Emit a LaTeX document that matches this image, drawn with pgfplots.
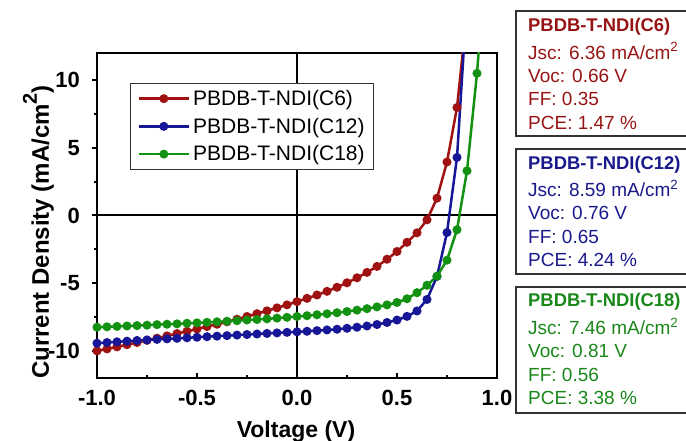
\documentclass[border=0pt]{standalone}
\usepackage{pgfplots}
\pgfplotsset{compat=1.18}
\usepackage{fontspec}
\setmainfont{Liberation Sans}
\definecolor{cred}{RGB}{160,18,18}
\definecolor{cblue}{RGB}{22,22,150}
\definecolor{cgreen}{RGB}{18,145,18}
\definecolor{tred}{RGB}{150,20,20}
\definecolor{tblue}{RGB}{25,25,140}
\definecolor{tgreen}{RGB}{25,135,25}
\begin{document}
\begin{tikzpicture}
\begin{axis}[
  scale only axis, width=400bp, height=325bp,
  xmin=-1, xmax=1, ymin=-12, ymax=12,
  axis line style={line width=2.4bp},
  xtick={-1,-0.5,0,0.5,1}, ytick={-10,-5,0,5,10},
  minor xtick={-0.75,-0.25,0.25,0.75}, minor ytick={-7.5,-2.5,2.5,7.5},
  xtick pos=bottom, ytick pos=left,
  tick align=inside,
  major tick length=5bp, minor tick length=3bp,
  every tick/.style={black, line width=2bp},
  every major y tick/.append style={xshift=-5bp},
  every minor y tick/.append style={xshift=-3bp},
  /pgf/number format/assume math mode=true,
  xticklabel style={/pgf/number format/fixed, /pgf/number format/fixed zerofill, /pgf/number format/precision=1,
    anchor=base, inner sep=0pt, yshift=-27bp},
  yticklabel style={anchor=east, inner sep=0pt, xshift=-17bp},
  ticklabel style={font=\fontsize{22bp}{26bp}\selectfont\bfseries},
  legend style={at={(0.0825,0.9086)}, anchor=north west, draw=black!80, line width=1.2bp,
    font=\fontsize{21bp}{25bp}\selectfont, inner xsep=7bp, inner ysep=5bp, row sep=7bp, column sep=1bp,
    nodes={inner sep=2bp}},
  legend cell align=left,
  legend image code/.code={\draw[mark repeat=2,mark phase=2] plot coordinates {(0bp,0bp) (25bp,0bp) (50bp,0bp)};},
  every axis plot/.append style={line width=2.5bp, mark=*, mark size=3.2bp},
]
\draw[line width=2bp, black] (axis cs:-1,0) -- (axis cs:1,0);
\draw[line width=2bp, black] (axis cs:0,-12) -- (axis cs:0,12);
\addplot[cred, mark options={fill=cred}] table {
-1.00 -10.00
-0.95 -9.85
-0.90 -9.70
-0.85 -9.54
-0.80 -9.38
-0.75 -9.22
-0.70 -9.06
-0.65 -8.89
-0.60 -8.72
-0.55 -8.55
-0.50 -8.38
-0.45 -8.20
-0.40 -8.03
-0.35 -7.85
-0.30 -7.66
-0.25 -7.46
-0.20 -7.25
-0.15 -7.04
-0.10 -6.82
-0.05 -6.60
0.00 -6.36
0.05 -6.12
0.10 -5.87
0.15 -5.60
0.20 -5.30
0.25 -4.97
0.30 -4.60
0.35 -4.20
0.40 -3.76
0.45 -3.23
0.50 -2.66
0.55 -1.98
0.60 -1.28
0.65 -0.32
0.70 1.28
0.75 3.95
0.80 7.98
0.85 15.0
};
\addlegendentry{PBDB-T-NDI(C6)}
\addplot[cblue, mark options={fill=cblue}] table {
-1.00 -9.43
-0.95 -9.38
-0.90 -9.33
-0.85 -9.28
-0.80 -9.23
-0.75 -9.19
-0.70 -9.15
-0.65 -9.11
-0.60 -9.07
-0.55 -9.03
-0.50 -8.99
-0.45 -8.95
-0.40 -8.91
-0.35 -8.87
-0.30 -8.83
-0.25 -8.79
-0.20 -8.75
-0.15 -8.71
-0.10 -8.67
-0.05 -8.63
0.00 -8.59
0.05 -8.55
0.10 -8.50
0.15 -8.45
0.20 -8.40
0.25 -8.33
0.30 -8.25
0.35 -8.16
0.40 -8.05
0.45 -7.90
0.50 -7.72
0.55 -7.45
0.60 -7.05
0.65 -6.20
0.70 -4.50
0.75 -1.26
0.80 4.29
0.85 16.0
};
\addlegendentry{PBDB-T-NDI(C12)}
\addplot[cgreen, mark options={fill=cgreen}] table {
-1.00 -8.25
-0.95 -8.22
-0.90 -8.19
-0.85 -8.16
-0.80 -8.13
-0.75 -8.10
-0.70 -8.06
-0.65 -8.03
-0.60 -8.00
-0.55 -7.96
-0.50 -7.93
-0.45 -7.89
-0.40 -7.85
-0.35 -7.81
-0.30 -7.77
-0.25 -7.72
-0.20 -7.68
-0.15 -7.63
-0.10 -7.58
-0.05 -7.52
0.00 -7.46
0.05 -7.40
0.10 -7.33
0.15 -7.26
0.20 -7.18
0.25 -7.09
0.30 -6.99
0.35 -6.88
0.40 -6.75
0.45 -6.60
0.50 -6.42
0.55 -6.15
0.60 -5.70
0.65 -5.15
0.70 -4.48
0.75 -3.30
0.80 -1.05
0.85 3.30
0.90 10.50
0.95 20.0
};
\addlegendentry{PBDB-T-NDI(C18)}
\end{axis}
% axis labels
\node[anchor=base, inner sep=0pt, font=\fontsize{23bp}{26bp}\selectfont\bfseries] at (199bp,-59bp) {Voltage (V)};
\node[rotate=90, anchor=base, inner sep=0pt, font=\fontsize{24bp}{26bp}\selectfont\bfseries] at (-48bp,146bp)
  {Current Density (mA/cm\raisebox{0.5em}{\fontsize{20bp}{20bp}\selectfont 2})};
% parameter boxes
\begin{scope}[line width=1.4bp, draw=black!80]
\draw (419bp,367bp) rectangle (595bp,242bp);
\draw (419bp,229bp) rectangle (595bp,104bp);
\draw (419bp,91bp) rectangle (595bp,-35bp);
\end{scope}
\begin{scope}[every node/.style={anchor=base west, inner sep=0pt, font=\fontsize{19bp}{22bp}\selectfont}]
\node[tred, font=\fontsize{18.4bp}{22bp}\selectfont\bfseries] at (431bp,346.3bp) {PBDB-T-NDI(C6)};
\node[tred] at (431bp,318.7bp) {Jsc: 6.36 mA/cm\textsuperscript{2}};
\node[tred] at (431bp,295.7bp) {Voc: 0.66 V};
\node[tred] at (431bp,272bp) {FF: 0.35};
\node[tred] at (431bp,248.7bp) {PCE: 1.47 \%};
\node[tblue, font=\fontsize{18.4bp}{22bp}\selectfont\bfseries] at (431bp,208.7bp) {PBDB-T-NDI(C12)};
\node[tblue] at (431bp,181.3bp) {Jsc: 8.59 mA/cm\textsuperscript{2}};
\node[tblue] at (431bp,158bp) {Voc: 0.76 V};
\node[tblue] at (431bp,134.7bp) {FF: 0.65};
\node[tblue] at (431bp,111.3bp) {PCE: 4.24 \%};
\node[tgreen, font=\fontsize{18.4bp}{22bp}\selectfont\bfseries] at (431bp,71.3bp) {PBDB-T-NDI(C18)};
\node[tgreen] at (431bp,43bp) {Jsc: 7.46 mA/cm\textsuperscript{2}};
\node[tgreen] at (431bp,20.3bp) {Voc: 0.81 V};
\node[tgreen] at (431bp,-3.7bp) {FF: 0.56};
\node[tgreen] at (431bp,-26.3bp) {PCE: 3.38 \%};
\end{scope}
\pgfresetboundingbox
\path[use as bounding box] (-97bp,-63bp) rectangle (589bp,378bp);
\end{tikzpicture}
\end{document}
